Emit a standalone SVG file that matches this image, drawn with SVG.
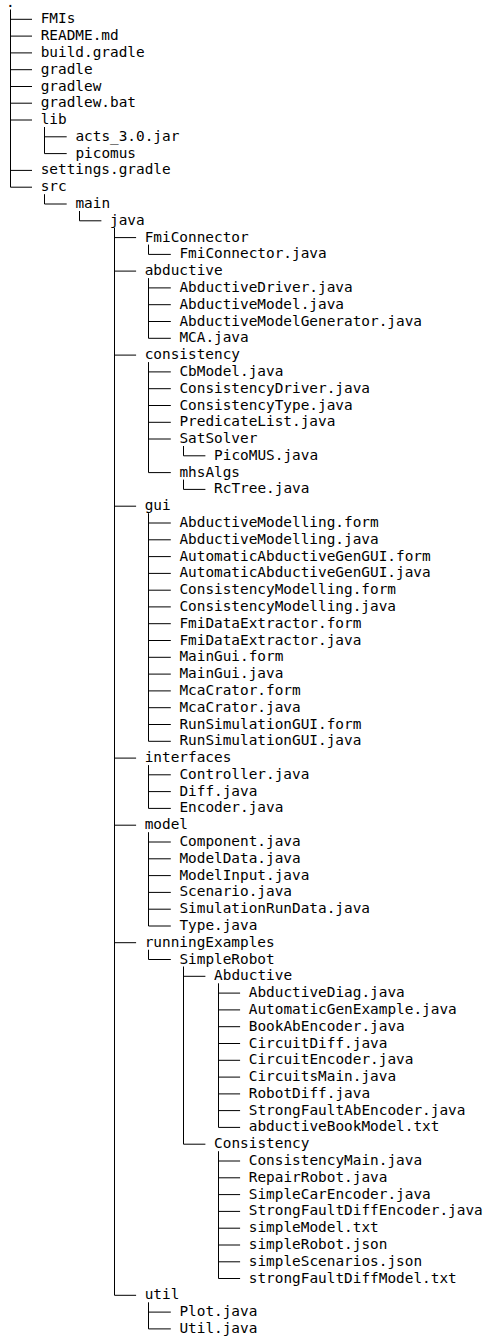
<svg xmlns="http://www.w3.org/2000/svg" width="486" height="1338" viewBox="0 0 486 1338">
<style>
text{font-family:"DejaVu Sans Mono","Liberation Mono",monospace;font-size:14.4px;fill:#000}
.c path{fill:none;stroke:#000;stroke-width:1}
</style>
<rect width="486" height="1338" fill="#fff"/>
<g class="c" id="connectors">
<path d="M10.5,9.5V187.2M10.5,19.3H32M10.5,36.1H32M10.5,52.9H32M10.5,69.7H32M10.5,86.5H32M10.5,103.2H32M10.5,120H32M10.5,170.4H32M10.5,187.2H32"/>
<path d="M44.5,127V153.6M44.5,136.8H66.7M44.5,153.6H66.7"/>
<path d="M44.5,194.2V204M44.5,204H66.7"/>
<path d="M79.5,211V220.8M79.5,220.8H101.4"/>
<path d="M114.5,227.8V1295.3M114.5,237.6H136.1M114.5,271.1H136.1M114.5,355.1H136.1M114.5,506.2H136.1M114.5,758.1H136.1M114.5,825.2H136.1M114.5,942.7H136.1M114.5,1295.3H136.1"/>
<path d="M148.5,244.6V254.4M148.5,254.4H170.8"/>
<path d="M148.5,278.1V338.3M148.5,287.9H170.8M148.5,304.7H170.8M148.5,321.5H170.8M148.5,338.3H170.8"/>
<path d="M148.5,362.1V472.6M148.5,371.9H170.8M148.5,388.7H170.8M148.5,405.5H170.8M148.5,422.3H170.8M148.5,439H170.8M148.5,472.6H170.8"/>
<path d="M183.5,446V455.8M183.5,455.8H205.4"/>
<path d="M183.5,479.6V489.4M183.5,489.4H205.4"/>
<path d="M148.5,513.2V741.3M148.5,523H170.8M148.5,539.8H170.8M148.5,556.6H170.8M148.5,573.4H170.8M148.5,590.2H170.8M148.5,606.9H170.8M148.5,623.7H170.8M148.5,640.5H170.8M148.5,657.3H170.8M148.5,674.1H170.8M148.5,690.9H170.8M148.5,707.7H170.8M148.5,724.5H170.8M148.5,741.3H170.8"/>
<path d="M148.5,765.1V808.4M148.5,774.8H170.8M148.5,791.6H170.8M148.5,808.4H170.8"/>
<path d="M148.5,832.2V926M148.5,842H170.8M148.5,858.8H170.8M148.5,875.6H170.8M148.5,892.4H170.8M148.5,909.2H170.8M148.5,926H170.8"/>
<path d="M148.5,949.7V959.5M148.5,959.5H170.8"/>
<path d="M183.5,966.5V1144.2M183.5,976.3H205.4M183.5,1144.2H205.4"/>
<path d="M218.5,983.3V1127.4M218.5,993.1H240.1M218.5,1009.9H240.1M218.5,1026.7H240.1M218.5,1043.5H240.1M218.5,1060.3H240.1M218.5,1077.1H240.1M218.5,1093.9H240.1M218.5,1110.6H240.1M218.5,1127.4H240.1"/>
<path d="M218.5,1151.2V1278.5M218.5,1161H240.1M218.5,1177.8H240.1M218.5,1194.6H240.1M218.5,1211.4H240.1M218.5,1228.2H240.1M218.5,1245H240.1M218.5,1261.8H240.1M218.5,1278.5H240.1"/>
<path d="M148.5,1302.3V1328.9M148.5,1312.1H170.8M148.5,1328.9H170.8"/>
</g>
<g id="n00"><text x="6" y="6.5">.</text></g>
<g id="n01"><text x="40.7" y="23.3">FMIs</text></g>
<g id="n02"><text x="40.7" y="40.1">README.md</text></g>
<g id="n03"><text x="40.7" y="56.9">build.gradle</text></g>
<g id="n04"><text x="40.7" y="73.7">gradle</text></g>
<g id="n05"><text x="40.7" y="90.5">gradlew</text></g>
<g id="n06"><text x="40.7" y="107.2">gradlew.bat</text></g>
<g id="n07"><text x="40.7" y="124">lib</text></g>
<g id="n08"><text x="75.4" y="140.8">acts_3.0.jar</text></g>
<g id="n09"><text x="75.4" y="157.6">picomus</text></g>
<g id="n10"><text x="40.7" y="174.4">settings.gradle</text></g>
<g id="n11"><text x="40.7" y="191.2">src</text></g>
<g id="n12"><text x="75.4" y="208">main</text></g>
<g id="n13"><text x="110" y="224.8">java</text></g>
<g id="n14"><text x="144.7" y="241.6">FmiConnector</text></g>
<g id="n15"><text x="179.4" y="258.4">FmiConnector.java</text></g>
<g id="n16"><text x="144.7" y="275.1">abductive</text></g>
<g id="n17"><text x="179.4" y="291.9">AbductiveDriver.java</text></g>
<g id="n18"><text x="179.4" y="308.7">AbductiveModel.java</text></g>
<g id="n19"><text x="179.4" y="325.5">AbductiveModelGenerator.java</text></g>
<g id="n20"><text x="179.4" y="342.3">MCA.java</text></g>
<g id="n21"><text x="144.7" y="359.1">consistency</text></g>
<g id="n22"><text x="179.4" y="375.9">CbModel.java</text></g>
<g id="n23"><text x="179.4" y="392.7">ConsistencyDriver.java</text></g>
<g id="n24"><text x="179.4" y="409.5">ConsistencyType.java</text></g>
<g id="n25"><text x="179.4" y="426.3">PredicateList.java</text></g>
<g id="n26"><text x="179.4" y="443">SatSolver</text></g>
<g id="n27"><text x="214.1" y="459.8">PicoMUS.java</text></g>
<g id="n28"><text x="179.4" y="476.6">mhsAlgs</text></g>
<g id="n29"><text x="214.1" y="493.4">RcTree.java</text></g>
<g id="n30"><text x="144.7" y="510.2">gui</text></g>
<g id="n31"><text x="179.4" y="527">AbductiveModelling.form</text></g>
<g id="n32"><text x="179.4" y="543.8">AbductiveModelling.java</text></g>
<g id="n33"><text x="179.4" y="560.6">AutomaticAbductiveGenGUI.form</text></g>
<g id="n34"><text x="179.4" y="577.4">AutomaticAbductiveGenGUI.java</text></g>
<g id="n35"><text x="179.4" y="594.2">ConsistencyModelling.form</text></g>
<g id="n36"><text x="179.4" y="610.9">ConsistencyModelling.java</text></g>
<g id="n37"><text x="179.4" y="627.7">FmiDataExtractor.form</text></g>
<g id="n38"><text x="179.4" y="644.5">FmiDataExtractor.java</text></g>
<g id="n39"><text x="179.4" y="661.3">MainGui.form</text></g>
<g id="n40"><text x="179.4" y="678.1">MainGui.java</text></g>
<g id="n41"><text x="179.4" y="694.9">McaCrator.form</text></g>
<g id="n42"><text x="179.4" y="711.7">McaCrator.java</text></g>
<g id="n43"><text x="179.4" y="728.5">RunSimulationGUI.form</text></g>
<g id="n44"><text x="179.4" y="745.3">RunSimulationGUI.java</text></g>
<g id="n45"><text x="144.7" y="762.1">interfaces</text></g>
<g id="n46"><text x="179.4" y="778.8">Controller.java</text></g>
<g id="n47"><text x="179.4" y="795.6">Diff.java</text></g>
<g id="n48"><text x="179.4" y="812.4">Encoder.java</text></g>
<g id="n49"><text x="144.7" y="829.2">model</text></g>
<g id="n50"><text x="179.4" y="846">Component.java</text></g>
<g id="n51"><text x="179.4" y="862.8">ModelData.java</text></g>
<g id="n52"><text x="179.4" y="879.6">ModelInput.java</text></g>
<g id="n53"><text x="179.4" y="896.4">Scenario.java</text></g>
<g id="n54"><text x="179.4" y="913.2">SimulationRunData.java</text></g>
<g id="n55"><text x="179.4" y="930">Type.java</text></g>
<g id="n56"><text x="144.7" y="946.7">runningExamples</text></g>
<g id="n57"><text x="179.4" y="963.5">SimpleRobot</text></g>
<g id="n58"><text x="214.1" y="980.3">Abductive</text></g>
<g id="n59"><text x="248.8" y="997.1">AbductiveDiag.java</text></g>
<g id="n60"><text x="248.8" y="1013.9">AutomaticGenExample.java</text></g>
<g id="n61"><text x="248.8" y="1030.7">BookAbEncoder.java</text></g>
<g id="n62"><text x="248.8" y="1047.5">CircuitDiff.java</text></g>
<g id="n63"><text x="248.8" y="1064.3">CircuitEncoder.java</text></g>
<g id="n64"><text x="248.8" y="1081.1">CircuitsMain.java</text></g>
<g id="n65"><text x="248.8" y="1097.9">RobotDiff.java</text></g>
<g id="n66"><text x="248.8" y="1114.6">StrongFaultAbEncoder.java</text></g>
<g id="n67"><text x="248.8" y="1131.4">abductiveBookModel.txt</text></g>
<g id="n68"><text x="214.1" y="1148.2">Consistency</text></g>
<g id="n69"><text x="248.8" y="1165">ConsistencyMain.java</text></g>
<g id="n70"><text x="248.8" y="1181.8">RepairRobot.java</text></g>
<g id="n71"><text x="248.8" y="1198.6">SimpleCarEncoder.java</text></g>
<g id="n72"><text x="248.8" y="1215.4">StrongFaultDiffEncoder.java</text></g>
<g id="n73"><text x="248.8" y="1232.2">simpleModel.txt</text></g>
<g id="n74"><text x="248.8" y="1249">simpleRobot.json</text></g>
<g id="n75"><text x="248.8" y="1265.8">simpleScenarios.json</text></g>
<g id="n76"><text x="248.8" y="1282.5">strongFaultDiffModel.txt</text></g>
<g id="n77"><text x="144.7" y="1299.3">util</text></g>
<g id="n78"><text x="179.4" y="1316.1">Plot.java</text></g>
<g id="n79"><text x="179.4" y="1332.9">Util.java</text></g>
</svg>
